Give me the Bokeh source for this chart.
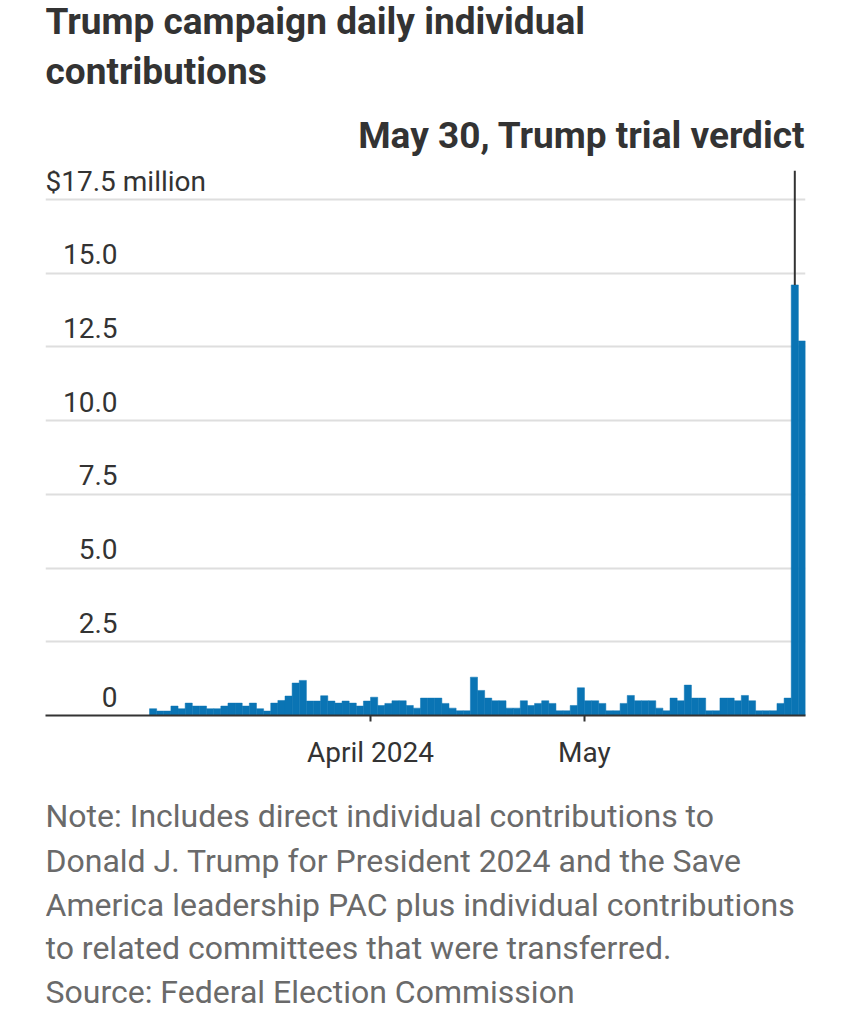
import pandas as pd
from bokeh.plotting import figure
from bokeh.layouts import column
from bokeh.models import FixedTicker, Range1d
from bokeh.core.properties import value
from bokeh.embed import file_html
from bokeh.resources import INLINE

# ---------------- data (millions of dollars per day) ----------------
start_date = "2024-03-01"
march = [0.23, 0.15, 0.15, 0.32, 0.23, 0.42, 0.32, 0.32, 0.23, 0.23,
         0.32, 0.42, 0.42, 0.32, 0.42, 0.23, 0.15, 0.42, 0.51, 0.66,
         1.10, 1.19, 0.49, 0.49, 0.67, 0.49, 0.42, 0.49, 0.42, 0.32,
         0.49]
april = [0.62, 0.34, 0.41, 0.50, 0.50, 0.34, 0.25, 0.59, 0.59, 0.59,
         0.41, 0.25, 0.16, 0.16, 1.30, 0.85, 0.59, 0.50, 0.50, 0.25,
         0.25, 0.50, 0.34, 0.41, 0.50, 0.41, 0.16, 0.16, 0.34, 0.94]
may = [0.50, 0.50, 0.41, 0.16, 0.16, 0.41, 0.68, 0.50, 0.50, 0.50,
       0.25, 0.16, 0.59, 0.50, 1.03, 0.59, 0.59, 0.16, 0.16, 0.59,
       0.59, 0.50, 0.68, 0.50, 0.16, 0.16, 0.16, 0.41, 0.59, 14.6,
       12.7]
contrib = march + april + may

y_ticks = [0, 2.5, 5, 7.5, 10, 12.5, 15]
y_tick_labels = ["0", "2.5", "5.0", "7.5", "10.0", "12.5", "15.0"]
y_top_tick = 17.5
y_top_label = "$17.5 million"
x_tick_dates = ["2024-04-01", "2024-05-01"]
x_tick_labels = ["April 2024", "May"]

title_lines = ["Trump campaign daily individual", "contributions"]
annotation_date = "2024-05-30"
annotation_text = "May 30, Trump trial verdict"
note_lines = [
    "Note: Includes direct individual contributions to",
    "Donald J. Trump for President 2024 and the Save",
    "America leadership PAC plus individual contributions",
    "to related committees that were transferred.",
    "Source: Federal Election Commission",
]

# ---------------- styling ----------------
FONT = "Roboto"
BAR = "#0a74b4"
DARK = "#333333"
GREY = "#6a6a6a"
GRID = "#dedede"
W = 842
LEFT, RIGHT = 45, 805   # frame edges (frames are aligned in the column)


def text_panel(height):
    f = figure(width=W, height=height, x_range=Range1d(LEFT, RIGHT), y_range=Range1d(height, 0),
               output_backend="svg", toolbar_location=None,
               min_border=0, min_border_left=LEFT, min_border_right=W - RIGHT,
               min_border_top=0, min_border_bottom=0,
               x_axis_location=None, y_axis_location=None,
               background_fill_color="white", border_fill_color="white")
    f.outline_line_color = None
    f.grid.visible = False
    return f


# ---------------- header ----------------
head = text_panel(165)
head.text(x=[LEFT, LEFT], y=[21, 71], text=title_lines,
          text_font=value(FONT), text_font_size="37px", text_font_style="bold",
          text_color=DARK, text_align="left", text_baseline="middle")
head.text(x=[RIGHT], y=[135], text=[annotation_text],
          text_font=value(FONT), text_font_size="37px", text_font_style="bold",
          text_color=DARK, text_align="right", text_baseline="middle")

# ---------------- main chart ----------------
DAY = pd.Timedelta(days=1)
day0 = pd.Timestamp(start_date)
dates = pd.date_range(start_date, periods=len(contrib), freq="D") + pd.Timedelta(hours=12)

x_start = day0 - pd.Timedelta(days=14.59)
x_end = day0 + len(contrib) * DAY
y_end = 18.48

p = figure(
    x_axis_type="datetime", width=W, height=610,
    min_border_left=LEFT, min_border_right=W - RIGHT,
    min_border_top=5, min_border_bottom=60,
    x_range=Range1d(x_start, x_end), y_range=Range1d(0, y_end),
    output_backend="svg", toolbar_location=None,
    background_fill_color="white", border_fill_color="white",
)
p.outline_line_color = None

p.xgrid.visible = False
p.ygrid.ticker = FixedTicker(ticks=y_ticks + [y_top_tick])
p.ygrid.grid_line_color = GRID
p.ygrid.grid_line_width = 2
p.yaxis.visible = False

p.vbar(x=dates, top=contrib, width=DAY.total_seconds() * 1000,
       fill_color=BAR, line_color=BAR, line_width=0.5)

ann_x = pd.Timestamp(annotation_date) + pd.Timedelta(hours=12)
ann_val = contrib[(pd.Timestamp(annotation_date) - day0).days]
p.segment(x0=[ann_x], y0=[ann_val], x1=[ann_x], y1=[y_end],
          line_color=DARK, line_width=2)

label_x = day0 - pd.Timedelta(days=4.49)
p.text(x=[label_x] * len(y_ticks), y=y_ticks, text=y_tick_labels,
       text_align="right", text_baseline="middle", y_offset=-19,
       text_font=value(FONT), text_font_size="28px", text_color=DARK)
p.text(x=[x_start], y=[y_top_tick], text=[y_top_label],
       text_align="left", text_baseline="middle", y_offset=-18,
       text_font=value(FONT), text_font_size="28px", text_color=DARK)

tick_ms = [pd.Timestamp(d).value / 1e6 for d in x_tick_dates]
p.xaxis.ticker = FixedTicker(ticks=tick_ms)
p.xaxis.major_label_overrides = {t: lab for t, lab in zip(tick_ms, x_tick_labels)}
p.xaxis.minor_tick_line_color = None
p.xaxis.major_tick_in = 0
p.xaxis.major_tick_out = 6
p.xaxis.major_tick_line_color = DARK
p.xaxis.major_tick_line_width = 2
p.xaxis.axis_line_color = DARK
p.xaxis.axis_line_width = 2
p.xaxis.major_label_text_font = FONT
p.xaxis.major_label_text_font_size = "28px"
p.xaxis.major_label_text_color = DARK
p.xaxis.major_label_standoff = 14

# ---------------- footer ----------------
foot = text_panel(245)
foot.text(x=[LEFT] * len(note_lines), y=[40, 85, 129, 172, 216], text=note_lines,
          text_font=value(FONT), text_font_size="32px", text_color=GREY,
          text_align="left", text_baseline="middle")

layout = column(head, p, foot)
open("out.html", "w").write(file_html(layout, INLINE))
